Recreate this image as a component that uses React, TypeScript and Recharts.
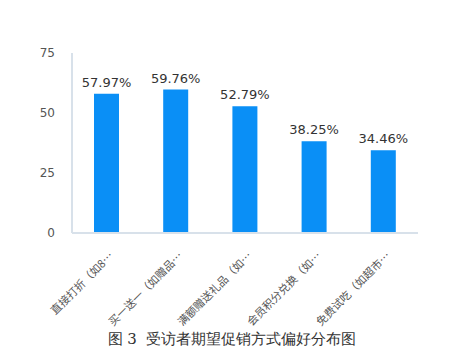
import { Bar, BarChart, LabelList, XAxis, YAxis } from 'recharts';

// truncated category names as they appear on the axis
const categories = [
  '直接打折（如8…',
  '买一送一（如赠品…',
  '满额赠送礼品（如…',
  '会员积分兑换（如…',
  '免费试吃（如超市…',
];
const shares = [57.97, 59.76, 52.79, 38.25, 34.46];
const yTicks = [0, 25, 50, 75];

const barColor = '#0a8ff6';
const axisColor = '#d8e1ea';

const chartData = categories.map((name, i) => ({ name, value: shares[i] }));

const CategoryTick = (props: any) => {
  const { x, y, payload } = props;
  return (
    <g transform={`translate(${x + 4},${y + 12})`}>
      <text
        textAnchor="end"
        dominantBaseline="central"
        transform="rotate(-45)"
        fontSize={11}
        fill="#555"
        fontFamily="'Noto Sans CJK SC', sans-serif"
      >
        {payload.value}
      </text>
    </g>
  );
};

export default function App() {
  return (
    <div
      style={{
        position: 'absolute',
        left: 0,
        top: 0,
        width: 464,
        height: 360,
        background: '#fff',
      }}
    >
      <BarChart
        width={464}
        height={360}
        data={chartData}
        margin={{ top: 53, right: 46, left: 42, bottom: 47 }}
      >
        <XAxis
          dataKey="name"
          interval={0}
          height={80}
          tickLine={false}
          axisLine={{ stroke: axisColor, strokeWidth: 2 }}
          tick={<CategoryTick />}
        />
        <YAxis
          width={30}
          domain={[0, 75]}
          ticks={yTicks}
          tickLine={false}
          tickSize={6}
          tickMargin={11}
          axisLine={{ stroke: axisColor, strokeWidth: 2 }}
          tick={{ fontSize: 12, fill: '#555', fontFamily: 'DejaVu Sans' }}
        />
        <Bar dataKey="value" fill={barColor} barSize={25} isAnimationActive={false}>
          <LabelList
            dataKey="value"
            position="top"
            offset={7}
            formatter={(v: any) => `${Number(v).toFixed(2)}%`}
            style={{ fontSize: 13, fill: '#333', fontFamily: 'DejaVu Sans' }}
          />
        </Bar>
      </BarChart>
      <div
        style={{
          position: 'absolute',
          left: 0,
          top: 330,
          width: 464,
          textAlign: 'center',
          fontSize: 15,
          color: '#333',
          fontFamily: "'DejaVu Serif', serif",
          whiteSpace: 'pre',
        }}
      >
        {'图 3  受访者期望促销方式偏好分布图'}
      </div>
    </div>
  );
}
